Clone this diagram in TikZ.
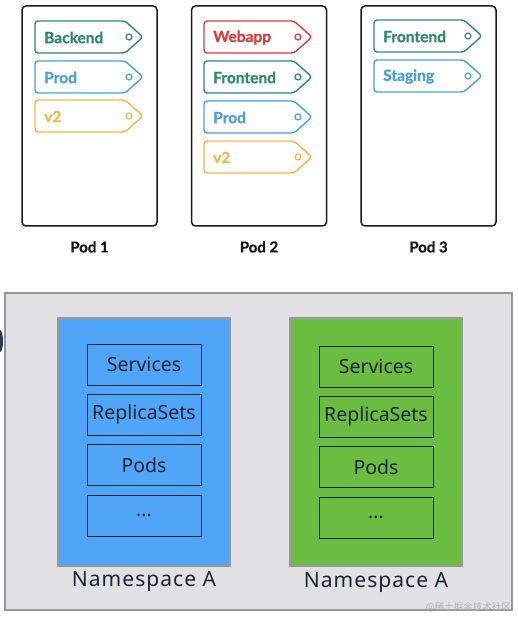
\documentclass[tikz,border=0pt]{standalone}
\usepackage{fontspec}
\setmainfont{Noto Sans}
\newfontfamily\tagfont[BoldFeatures={FakeBold=0.8}]{Lato}
\newfontfamily\nsfont[LetterSpace=5]{Noto Sans}
\newfontfamily\cjk{Noto Sans CJK SC}
\usepackage{tikz}
\usetikzlibrary{positioning}

\definecolor{tagGreen}{HTML}{2E8A6B}
\definecolor{tagRed}{HTML}{E0383E}
\definecolor{tagBlue}{HTML}{4A9FD9}
\definecolor{tagOrange}{HTML}{F4B54A}
\definecolor{nsBlue}{HTML}{4FA5F7}
\definecolor{nsGreen}{HTML}{6BBD42}
\definecolor{clusterGray}{HTML}{E1E1E3}
\definecolor{edgeGray}{HTML}{989898}
\definecolor{inkDark}{HTML}{1B2433}

\tikzset{
  podbox/.style={draw=black!90, line width=1.5pt, rounded corners=4pt,
    minimum width=135pt, minimum height=220pt, inner sep=0pt},
  podlabel/.style={font=\tagfont\bfseries\fontsize{15}{15}\selectfont, text=black!90},
  tagtext/.style={anchor=west, inner sep=0pt, font=\tagfont\bfseries\fontsize{15.5}{15.5}\selectfont},
  nsbox/.style={draw=edgeGray, line width=1.5pt, minimum width=172pt, minimum height=248pt, inner sep=0pt},
  resbox/.style={draw=inkDark, line width=0.9pt, minimum width=114pt, minimum height=41pt,
    inner sep=0pt, text=inkDark, font=\fontsize{19.5}{19.5}\selectfont},
  nslabel/.style={text=inkDark, font=\nsfont\fontsize{21}{21}\selectfont}
}

% label tag: name, x, y (top left), colour, text
\newcommand\podtag[5]{%
  \draw[#4, line width=1.4pt, rounded corners=3pt] (#2,#3) -- ++(90,0) -- ++(18,16)
    -- ++(-18,16) -- ++(-90,0) -- cycle;
  \draw[#4, line width=1.2pt] (#2+94,#3+16) circle (3pt);
  \node[tagtext, text=#4] (#1) at (#2+9,#3+16.5) {#5};
}
\newcommand\moredots{...}

\begin{document}
\begin{tikzpicture}[x=1pt,y=-1pt]
\useasboundingbox (0,0) rectangle (517,617);

% pods
\node[podbox] (pod1) at (89.5,116) {};
\node[podbox] (pod2) at (259,116) {};
\node[podbox] (pod3) at (428.5,116) {};
\node[podlabel, below=11pt of pod1] (pod1label) {Pod 1};
\node[podlabel, below=11pt of pod2] (pod2label) {Pod 2};
\node[podlabel, below=11pt of pod3] (pod3label) {Pod 3};

\podtag{backend}{35}{21}{tagGreen}{Backend}
\podtag{prod1}{35}{61}{tagBlue}{Prod}
\podtag{vtwo1}{35}{100}{tagOrange}{v2}

\podtag{webapp}{204}{21}{tagRed}{Webapp}
\podtag{frontend2}{204}{61}{tagGreen}{Frontend}
\podtag{prod2}{204}{101}{tagBlue}{Prod}
\podtag{vtwo2}{204}{141}{tagOrange}{v2}

\podtag{frontend3}{374}{20}{tagGreen}{Frontend}
\podtag{staging}{374}{60}{tagBlue}{Staging}

% cluster with namespaces
\fill[black!75!blue!60!gray] (0,341) ellipse (3pt and 11pt);
\node[draw=edgeGray, fill=clusterGray, line width=1.5pt, minimum width=507pt,
  minimum height=317pt, inner sep=0pt] (cluster) at (258.5,451.5) {};

\node[nsbox, fill=nsBlue] (nsA) at (144,442) {};
\node[nsbox, fill=nsGreen] (nsB) at (376,442) {};

\foreach \res [count=\i] in {Services,ReplicaSets,Pods,\moredots}{
  \node[resbox] (ares\i) at (144,{364.5+50.4*(\i-1)}) {\res};
  \node[resbox] (bres\i) at (376,{366.5+50.4*(\i-1)}) {\res};
}

\node[nslabel] (nsAlabel) at (144,581) {Namespace A};
\node[nslabel] (nsBlabel) at (376,582) {Namespace A};

\node[anchor=south east, inner sep=0pt, text=black!30,
  font=\cjk\fontsize{9.5}{9.5}\selectfont] (mark) at (511,612) {@稀土掘金技术社区};
\end{tikzpicture}
\end{document}
